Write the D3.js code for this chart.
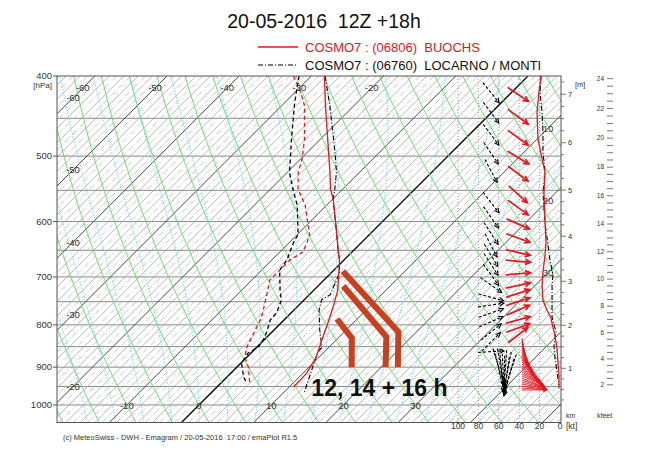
<!DOCTYPE html>
<html><head><meta charset="utf-8">
<script src="https://cdn.jsdelivr.net/npm/d3@7"></script>
<style>
body{margin:0;background:#fff}
svg{display:block;font-family:"Liberation Sans",Arial,Helvetica,sans-serif}
</style></head>
<body><svg id="c" width="650" height="455"></svg>
<script>
// ---------------- DATA ----------------
const pressureLabels = [400,500,600,700,800,900,1000];
const pressureGrid = [450,500,550,600,650,700,750,800,850,900,950,1000];
const isoLabelsTop = [-60,-50,-40,-30,-20];
const isoLabelsLeft = [-60,-50,-40,-30,-20];
const isoLabelsBottom = [-10,0,10,20,30];
const isoLabelsRight = [10,20,30];
const windTicks = [100,80,60,40,20,0];
const kmTicks = [1,2,3,4,5,6,7];
const kfeetTicks = [2,4,6,8,10,12,14,16,18,20,22,24];

// BUOCHS (red)
const buochsTP = [400,434,498,523,548,563,601,653,668,726,761,796,834,875,915,951];
const buochsT  = [-28.2,-24.0,-16.7,-14.1,-11.7,-10.0,-6.4,-1.9,-0.6,3.3,5.0,6.5,8.0,9.6,10.5,10.6];
const buochsTdP = [400,415,434,477,504,523,548,573,623,635,653,668,687,706,741,783,811,851,875,900,941];
const buochsTd  = [-32.5,-29.8,-26.9,-22.2,-19.8,-18.5,-16.2,-13.0,-8.2,-7.6,-6.8,-7.5,-7.5,-7.5,-5.6,-3.5,-2.6,-1.4,-0.3,1.6,4.0];
// LOCARNO / MONTI (black)
const locarnoTP = [400,434,498,523,548,563,601,653,668,693,736,746,768,811,851,865,900,933,967];
const locarnoT  = [-28.1,-23.4,-15.8,-13.2,-11.1,-10.0,-6.4,-1.9,-0.6,1.2,2.9,2.4,3.5,6.3,9.0,9.2,10.5,11.7,12.9];
const locarnoTdP = [400,415,434,477,523,548,573,623,632,668,687,726,747,774,789,827,851,865,890,925,941];
const locarnoTd  = [-31.7,-30.2,-28.3,-24.0,-19.7,-16.9,-14.1,-9.8,-9.6,-7.9,-7.5,-4.7,-3.1,-2.0,-1.9,-0.3,0.2,-0.4,0.1,2.3,3.6];

// wind speed profiles [kt]
const buochsWindP  = [400,418,442,477,504,523,553,601,635,659,691,716,747,768,785,805,823,853,887,920,955];
const buochsWindKt = [18.6,20.6,22.5,21.6,17.6,14.7,15.7,14.7,13.7,14.7,16.7,17.6,16.7,12.7,8.8,7,5,3,2,1,1];
const locarnoWindP  = [400,418,442,468,494,523,553,601,641,668,696,716,751,783,816,846,878,912,946];
const locarnoWindKt = [18.6,19.6,17.6,16.7,16.7,14.7,16.7,14.7,11.8,9.8,6.9,7.8,7.8,7.8,3.9,5.9,4.9,2.9,1.0];

// wind directions (deg, direction wind blows from)
const buochsArrowP   = [421,448,475,502,525,556,577,604,628,654,670,694,717,733,750,768,789,807,823];
const buochsArrowDir = [304,306,306,301,307,312,306,294,290,283,275,265,258,252,252,247,255,250,232];
const buochsFanP   = [830,835,839,844,849,853,858,863,868,872,877,882,887,892,897,902,907,912,917,922,928,933,938,943,949,954,959];
const buochsFanDir = [350,348,345,343,340,338,335,333,330,328,325,322,318,315,312,308,305,302,298,295,292,288,285,282,278,274,270];
const locarnoArrowP   = [419,443,471,496,521,569,593,620,641,659,676,696,716,741,757,774,793,816,839,862];
const locarnoArrowDir = [321,323,323,326,332,322,325,327,333,329,327,324,305,285,262,251,246,231,225,267];
const locarnoConeP   = [945,948,951,954,957,960,963,966,969,972,975];
const locarnoConeDir = [343,350,357,4,11,19,347,354,1,8,15];

// annotation (p, T)
const annotChevrons = [
  [[787,7.2],[830,11.9],[900,15.9]],
  [[718,3.5],[827,16.5],[900,20.6]],
  [[689,1.4],[816,17.5],[900,22.3]]
];
const annotText = {p:975, T:14.3, text:"12, 14 + 16 h"};

// ---------------- SCALES ----------------
const svg = d3.select('#c');
const PL=57, PR=561, PT=76, PB=422.5;
const y = d3.scaleLog().domain([400,1050]).range([PT,PB]);
const tx = d3.scaleLinear().domain([0,10]).range([528,600.2]); // isotherm position at 400 hPa
const SKEW = 1.0;
const X = (T,p) => tx(T) - SKEW*(y(p)-y(400));
const xw = d3.scaleLinear().domain([0,100]).range([560,458]);
const pOfZ = zm => 1015*Math.pow(1-0.0065*zm/295, 5.25588);

const RED = "#e8141e";
const defs = svg.append('defs');
defs.append('clipPath').attr('id','clip').append('rect')
  .attr('x',PL).attr('y',PT).attr('width',PR-PL).attr('height',PB-PT);

const bg = svg.append('g').attr('clip-path','url(#clip)');
const line = d3.line();
const pLev = d3.range(400,1051,10);

// horizontal pressure grid
bg.selectAll('.hg').data(pressureGrid).join('line')
  .attr('x1',PL).attr('x2',PR).attr('y1',d=>y(d)).attr('y2',d=>y(d))
  .attr('stroke','#8a8a8a').attr('stroke-width',1);

// isotherms (every 2 deg solid, odd degrees dash-dot)
const isoT = d3.range(-130,61,1);
bg.selectAll('.iso').data(isoT).join('line')
  .attr('x1',d=>X(d,400)).attr('y1',y(400)).attr('x2',d=>X(d,1050)).attr('y2',y(1050))
  .attr('stroke',d=> d===0 ? '#000' : (d%10===0 ? '#444' : (Math.abs(d)%2===1 ? '#b4b4b4' : '#a0a0a0')))
  .attr('stroke-width',d=> d===0 ? 1.3 : (d%10===0 ? 1 : 0.75))
  .attr('stroke-dasharray',d=> Math.abs(d)%2===1 ? '6,2,1,2' : null);

// dry adiabats
const thetas = d3.range(-30,121,5);
bg.selectAll('.dry').data(thetas).join('path')
  .attr('d',th=>line(pLev.map(p=>[X((th+273.15)*Math.pow(p/1000,0.2857)-273.15,p),y(p)])))
  .attr('fill','none').attr('stroke','#6fdc6f').attr('stroke-width',1);

// moist adiabats
function moistCurve(tw){
  const Rd=287.04,cp=1005.7,Lv=2.501e6,eps=0.622;
  const lapse=(T,p)=>{const es=6.112*Math.exp(17.67*(T-273.15)/(T-29.65));const rs=eps*es/(p-es);
    return ((Rd*T+Lv*rs)/p)/(cp+Lv*Lv*rs*eps/(Rd*T*T));};
  const pts=[];let T=tw+273.15;
  for(let p=1000;p>=400;p-=2){pts.push([p,T-273.15]);T-=lapse(T,p)*2;}
  T=tw+273.15;const low=[];
  for(let p=1000;p<=1050;p+=2){low.push([p,T-273.15]);T+=lapse(T,p)*2;}
  return low.reverse().concat(pts);
}
const moistTw = d3.range(-16,41,4);
bg.selectAll('.moist').data(moistTw).join('path')
  .attr('d',tw=>line(moistCurve(tw).map(d=>[X(d[1],d[0]),y(d[0])])))
  .attr('fill','none').attr('stroke','#6ad8ec').attr('stroke-width',1).attr('stroke-dasharray','1.5,1.5');

// wind speed grid
bg.selectAll('.wg').data(windTicks.filter(d=>d>0)).join('line')
  .attr('x1',d=>xw(d)).attr('x2',d=>xw(d)).attr('y1',PT).attr('y2',PB)
  .attr('stroke','#888').attr('stroke-width',0.8).attr('stroke-dasharray','1,2');

// isotherm labels
const lab = svg.append('g').attr('font-size',9.5).attr('fill','#333').attr('text-anchor','middle');
lab.selectAll('.lt').data(isoLabelsTop).join('text')
  .attr('x',d=>X(d, y.invert(88))).attr('y',88).attr('dy','0.35em').text(d=>d);
lab.selectAll('.ll').data(isoLabelsLeft).join('text')
  .attr('x',73).attr('y',d=>y(400)+(tx(d)-73)/SKEW).attr('dy','0.35em').text(d=>d);
lab.selectAll('.lb').data(isoLabelsBottom).join('text')
  .attr('x',d=>X(d,1000)).attr('y',y(1000)+1).attr('dy','0.35em').text(d=>d);
lab.selectAll('.lr').data(isoLabelsRight).join('text')
  .attr('x',548).attr('y',d=>y(400)+(tx(d)-548)/SKEW).attr('dy','0.35em').text(d=>d);

// ---------- profiles ----------
const prof = svg.append('g').attr('clip-path','url(#clip)').attr('fill','none');
const zipTP = (P,T)=>P.map((p,i)=>[X(T[i],p),y(p)]);
prof.append('path').attr('d',line(zipTP(buochsTdP,buochsTd))).attr('stroke',RED).attr('stroke-width',1.3).attr('stroke-dasharray','4,3');
prof.append('path').attr('d',line(zipTP(locarnoTdP,locarnoTd))).attr('stroke','#000').attr('stroke-width',1.3).attr('stroke-dasharray','4,3');
prof.append('path').attr('d',line(zipTP(locarnoTP,locarnoT))).attr('stroke','#000').attr('stroke-width',1.1).attr('stroke-dasharray','5,2,1,2');
prof.append('path').attr('d',line(zipTP(buochsTP,buochsT))).attr('stroke',RED).attr('stroke-width',1.3);

// wind speed profiles
prof.append('path').attr('d',line(locarnoWindP.map((p,i)=>[xw(locarnoWindKt[i]),y(p)]))).attr('stroke','#000').attr('stroke-width',1.1).attr('stroke-dasharray','5,2,1,2');
prof.append('path').attr('d',line(buochsWindP.map((p,i)=>[xw(buochsWindKt[i]),y(p)]))).attr('stroke',RED).attr('stroke-width',1.3);

// wind arrows
function drawArrow(gr,x1,y1,x2,y2,color,dash,w,h){
  gr.append('line').attr('x1',x1).attr('y1',y1).attr('x2',x2).attr('y2',y2)
    .attr('stroke',color).attr('stroke-width',w).attr('stroke-dasharray',dash);
  const a=Math.atan2(y2-y1,x2-x1),s=0.45;
  gr.append('path').attr('d',`M${x2-h*Math.cos(a-s)},${y2-h*Math.sin(a-s)}L${x2},${y2}L${x2-h*Math.cos(a+s)},${y2-h*Math.sin(a+s)}`)
    .attr('stroke',color).attr('stroke-width',w).attr('fill','none');
}
const toward = dir => { const b=(dir+180)*Math.PI/180; return [Math.sin(b), -Math.cos(b)]; };
const arr = svg.append('g').attr('clip-path','url(#clip)');
const RCX=518, RL=25, RFX=522, BCX=491, BL=26, BHX=504, BCL=38;
locarnoArrowP.forEach((p,i)=>{const [ux,uy]=toward(locarnoArrowDir[i]);const cy=y(p);
  drawArrow(arr,BCX-ux*BL/2,cy-uy*BL/2,BCX+ux*BL/2,cy+uy*BL/2,'#000','3,2',1.1,5);});
locarnoConeP.forEach((p,i)=>{const [ux,uy]=toward(locarnoConeDir[i]);const hy=y(p);
  drawArrow(arr,BHX-ux*BCL,hy-uy*BCL,BHX,hy,'#000','3,1.5',1.1,5);});
buochsArrowP.forEach((p,i)=>{const [ux,uy]=toward(buochsArrowDir[i]);const cy=y(p);
  drawArrow(arr,RCX-ux*RL/2,cy-uy*RL/2,RCX+ux*RL/2,cy+uy*RL/2,RED,null,1.7,6);});
buochsFanP.forEach((p,i)=>{const [ux,uy]=toward(buochsFanDir[i]);const ty=y(p);
  drawArrow(arr,RFX,ty,RFX+ux*RL,ty+uy*RL,RED,null,0.9,4);});

// annotations
const an = svg.append('g');
an.selectAll('.chev').data(annotChevrons).join('path')
  .attr('d',c=>line(c.map(d=>[X(d[1],d[0]),y(d[0])])))
  .attr('fill','none').attr('stroke','#c8401e').attr('stroke-width',6).attr('stroke-linejoin','miter');
an.append('text').attr('x',X(annotText.T,annotText.p)).attr('y',y(annotText.p))
  .attr('font-size',23).attr('font-weight','bold').attr('fill','#111').text(annotText.text);

// ---------- frame & axes ----------
svg.append('rect').attr('x',PL).attr('y',PT).attr('width',PR-PL).attr('height',PB-PT)
  .attr('fill','none').attr('stroke','#555').attr('stroke-width',1);
const ax = svg.append('g').attr('fill','#333');
ax.selectAll('.pl').data(pressureLabels).join('text')
  .attr('x',52).attr('y',d=>y(d)).attr('dy','0.35em').attr('text-anchor','end').attr('font-size',9.5).text(d=>d);
ax.selectAll('.pt').data(pressureLabels).join('line')
  .attr('x1',53).attr('x2',PL).attr('y1',d=>y(d)).attr('y2',d=>y(d)).attr('stroke','#555');
ax.append('text').attr('x',52).attr('y',y(400)+9).attr('dy','0.35em').attr('text-anchor','end').attr('font-size',8).text('[hPa]');

// wind speed axis labels
ax.selectAll('.wl').data(windTicks).join('text')
  .attr('x',d=>xw(d)).attr('y',429).attr('text-anchor','middle').attr('font-size',8.5).text(d=>d);
ax.append('text').attr('x',566).attr('y',429).attr('font-size',8.5).text('[kt]');
ax.append('text').attr('x',566).attr('y',418).attr('font-size',7).text('km');
ax.append('text').attr('x',597).attr('y',418).attr('font-size',7).text('kfeet');
ax.append('text').attr('x',575).attr('y',87).attr('font-size',7.5).text('[m]');

// km axis
const kmMinor = d3.range(0.25,7.51,0.25).filter(z=>y(pOfZ(z*1000))>=PT && y(pOfZ(z*1000))<=PB);
ax.selectAll('.kmt').data(kmMinor).join('line')
  .attr('x1',PR).attr('x2',d=>Number.isInteger(d)?PR+5:PR+3)
  .attr('y1',d=>y(pOfZ(d*1000))).attr('y2',d=>y(pOfZ(d*1000))).attr('stroke','#555').attr('stroke-width',0.8);
ax.selectAll('.kml').data(kmTicks).join('text')
  .attr('x',PR+7).attr('y',d=>y(pOfZ(d*1000))).attr('dy','0.35em').attr('font-size',7.5).text(d=>d);
// kfeet axis
const kfMinor = d3.range(2,24.01,0.5);
ax.selectAll('.kft').data(kfMinor).join('line')
  .attr('x1',607).attr('x2',613)
  .attr('y1',d=>y(pOfZ(d*304.8))).attr('y2',d=>y(pOfZ(d*304.8))).attr('stroke','#555').attr('stroke-width',0.8);
ax.selectAll('.kfl').data(kfeetTicks).join('text')
  .attr('x',604).attr('y',d=>y(pOfZ(d*304.8))).attr('dy','0.35em').attr('text-anchor','end').attr('font-size',6.5).text(d=>d);

// title & legend
svg.append('text').attr('x',324).attr('y',28).attr('text-anchor','middle').attr('font-size',19.5)
  .style('white-space','pre').attr('fill','#111').text('20-05-2016  12Z +18h');
svg.append('line').attr('x1',258).attr('x2',298).attr('y1',47).attr('y2',47).attr('stroke',RED).attr('stroke-width',1.5);
svg.append('text').attr('x',305).attr('y',52).attr('font-size',13).attr('fill',RED).style('white-space','pre')
  .text('COSMO7 : (06806)  BUOCHS');
svg.append('line').attr('x1',258).attr('x2',298).attr('y1',65).attr('y2',65).attr('stroke','#000').attr('stroke-width',1).attr('stroke-dasharray','5,2,1,2');
svg.append('text').attr('x',305).attr('y',70).attr('font-size',13).attr('fill','#111').style('white-space','pre')
  .text('COSMO7 : (06760)  LOCARNO / MONTI');
// footer
svg.append('text').attr('x',63).attr('y',440).attr('font-size',7.5).attr('fill','#333').style('white-space','pre')
  .text('(c) MeteoSwiss - DWH - Emagram / 20-05-2016  17:00 / emaPlot R1.5');
</script></body></html>
